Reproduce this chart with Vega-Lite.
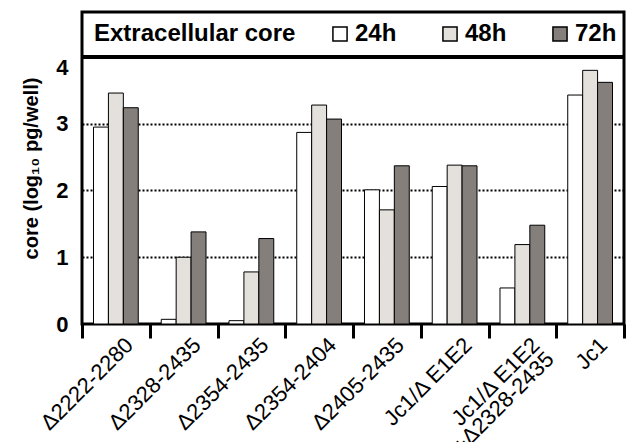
{
  "$schema": "https://vega.github.io/schema/vega-lite/v6.json",
  "width": 542,
  "height": 312,
  "autosize": {"type": "none"},
  "padding": {"left": 82, "top": 12, "right": 3, "bottom": 118},
  "background": "white",
  "config": {
    "view": {"stroke": "black", "strokeWidth": 3},
    "font": "Liberation Sans"
  },
  "data": {
    "values": [
      {"construct": "Δ2222-2280", "time": "24h", "core": 2.95},
      {"construct": "Δ2222-2280", "time": "48h", "core": 3.46},
      {"construct": "Δ2222-2280", "time": "72h", "core": 3.24},
      {"construct": "Δ2328-2435", "time": "24h", "core": 0.07},
      {"construct": "Δ2328-2435", "time": "48h", "core": 1.0},
      {"construct": "Δ2328-2435", "time": "72h", "core": 1.38},
      {"construct": "Δ2354-2435", "time": "24h", "core": 0.05},
      {"construct": "Δ2354-2435", "time": "48h", "core": 0.78},
      {"construct": "Δ2354-2435", "time": "72h", "core": 1.28},
      {"construct": "Δ2354-2404", "time": "24h", "core": 2.87},
      {"construct": "Δ2354-2404", "time": "48h", "core": 3.28},
      {"construct": "Δ2354-2404", "time": "72h", "core": 3.07},
      {"construct": "Δ2405-2435", "time": "24h", "core": 2.01},
      {"construct": "Δ2405-2435", "time": "48h", "core": 1.71},
      {"construct": "Δ2405-2435", "time": "72h", "core": 2.37},
      {"construct": "Jc1/Δ E1E2", "time": "24h", "core": 2.06},
      {"construct": "Jc1/Δ E1E2", "time": "48h", "core": 2.38},
      {"construct": "Jc1/Δ E1E2", "time": "72h", "core": 2.37},
      {"construct": "Jc1/Δ E1E2|+Δ2328-2435", "time": "24h", "core": 0.54},
      {"construct": "Jc1/Δ E1E2|+Δ2328-2435", "time": "48h", "core": 1.19},
      {"construct": "Jc1/Δ E1E2|+Δ2328-2435", "time": "72h", "core": 1.48},
      {"construct": "Jc1", "time": "24h", "core": 3.43},
      {"construct": "Jc1", "time": "48h", "core": 3.8},
      {"construct": "Jc1", "time": "72h", "core": 3.62}
    ]
  },
  "layer": [
    {
      "mark": {"type": "bar", "stroke": "black", "strokeWidth": 1},
      "encoding": {
        "x": {
          "field": "construct",
          "type": "nominal",
          "sort": null,
          "scale": {"paddingInner": 0, "paddingOuter": 0},
          "axis": {
            "title": null,
            "labelAngle": -45,
            "labelFontSize": 22,
            "labelColor": "black",
            "labelExpr": "split(datum.label, '|')",
            "labelOffset": 6,
            "labelPadding": -4,
            "labelLineHeight": 20,
            "labelLimit": 300,
            "tickBand": "extent",
            "tickSize": 14,
            "tickWidth": 3,
            "tickColor": "black",
            "domain": false,
            "grid": false
          }
        },
        "xOffset": {"field": "time", "type": "nominal", "scale": {"paddingInner": 0, "paddingOuter": 0.77}},
        "y": {
          "field": "core",
          "type": "quantitative",
          "scale": {"domain": [0, 4.674], "nice": false, "zero": true},
          "axis": {
            "title": "core (log₁₀ pg/well)",
            "titleFontSize": 20,
            "titleFontWeight": "bold",
            "titleColor": "black",
            "titlePadding": 14,
            "values": [0, 1, 2, 3, 4],
            "format": "d",
            "labelFontSize": 22,
            "labelFontWeight": "bold",
            "labelColor": "black",
            "labelPadding": 14,
            "labelOffset": {"condition": {"test": "datum.value == 4", "value": 11}, "value": 0},
            "ticks": false,
            "domain": false,
            "grid": true,
            "gridColor": "black",
            "gridWidth": 2,
            "gridDash": [2, 2],
            "gridOpacity": {"condition": {"test": "datum.value == 0 || datum.value == 4", "value": 0}, "value": 1}
          }
        },
        "fill": {
          "field": "time",
          "type": "nominal",
          "scale": {"domain": ["24h", "48h", "72h"], "range": ["#ffffff", "#e4e0dc", "#857f7c"]},
          "legend": {
            "orient": "none",
            "legendX": 12,
            "legendY": 10,
            "direction": "horizontal",
            "title": "Extracellular core",
            "titleOrient": "left",
            "titleFontSize": 24,
            "titleFontWeight": "bold",
            "titleColor": "black",
            "titlePadding": 32,
            "titleLimit": 400,
            "labelFontSize": 24,
            "labelFontWeight": "bold",
            "labelColor": "black",
            "labelOffset": 3,
            "symbolType": "square",
            "symbolSize": 200,
            "symbolStrokeColor": "black",
            "symbolStrokeWidth": 1.5,
            "columnPadding": 41,
            "padding": 0
          }
        }
      }
    },
    {
      "mark": {"type": "rule", "color": "black", "strokeWidth": 3},
      "encoding": {"y": {"datum": 4}}
    }
  ]
}
